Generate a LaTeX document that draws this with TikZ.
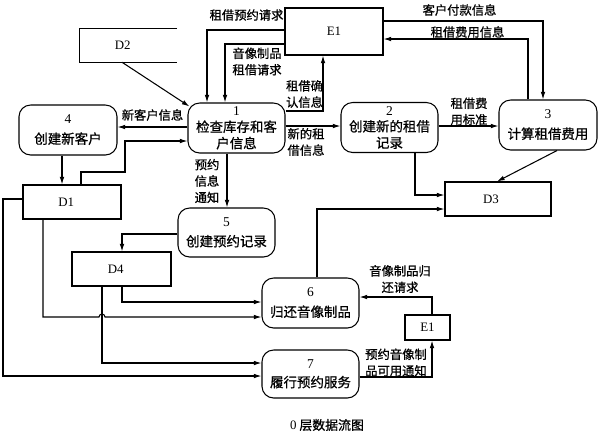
\documentclass[tikz,border=0pt]{standalone}
\usepackage{fontspec}
\setmainfont{Liberation Serif}
\newfontfamily\cjk[FakeBold=0.8]{Noto Sans CJK SC}
\usetikzlibrary{arrows.meta}
\begin{document}
\begin{tikzpicture}[x=0.03cm,y=-0.03cm,
  proc/.style={draw, rounded corners=3.5mm, line width=0.9pt, align=center, inner sep=0pt,
    minimum width=2.91cm, minimum height=1.5cm, font=\cjk\fontsize{11.5}{14}\selectfont},
  store/.style={draw, line width=0.9pt, minimum width=2.94cm, minimum height=1.02cm,
    inner sep=0pt, font=\rmfamily\fontsize{11}{13}\selectfont},
  lbl/.style={align=center, inner sep=0pt, font=\cjk\fontsize{10.5}{14}\selectfont},
  arr/.style={-{Latex[length=2.3mm,width=1.4mm]}, line width=0.9pt},
  ln/.style={line width=0.9pt}]
\useasboundingbox (0,0) rectangle (599,436);

% processes
\node[proc] (p1) at (236.5,128) {{\rmfamily 1}\\检查库存和客\\户信息};
\node[proc] (p2) at (389.5,127.5) {{\rmfamily 2}\\创建新的租借\\记录};
\node[proc, minimum width=2.94cm] (p3) at (548,125) {{\rmfamily 3}\\[3pt]计算租借费用};
\node[proc, minimum width=2.94cm] (p4) at (68,130) {{\rmfamily 4}\\[3pt]创建新客户};
\node[proc, minimum height=1.47cm] (p5) at (226.5,232.5) {{\rmfamily 5}\\[3pt]创建预约记录};
\node[proc] (p6) at (310.5,303) {{\rmfamily 6}\\[3pt]归还音像制品};
\node[proc, minimum height=1.44cm] (p7) at (310.5,374) {{\rmfamily 7}\\[2pt]履行预约服务};

% stores and entities
\node[store] (d1) at (72,202) {\hspace*{-10pt}D1};
\node[store, minimum width=2.97cm] (d4) at (121.5,269) {\hspace*{-10pt}D4};
\node[store, minimum width=3.18cm] (d3) at (498,199) {\hspace*{-12pt}D3};
\node[store, minimum height=1.41cm] (e1) at (334,31.5) {E1};
\node[store, minimum width=1.35cm, minimum height=0.75cm] (e1b) at (427.5,327.5) {E1};
\node[inner sep=0pt, minimum width=2.91cm, minimum height=0.99cm, font=\rmfamily\fontsize{11}{13}\selectfont] (d2) at (128.5,45.5) {\hspace*{-10pt}D2};
\draw[ln] (d2.north east) -- (d2.north west) -- (d2.south west) -- (d2.south east);

% flows
\draw[arr] (e1.west |- 0,30) -| (p1.north -| 207,0);
\draw[arr] (e1.west |- 0,44) -| (p1.north -| 225,0);
\draw[arr] (p1.east |- 0,111) -| (e1.south -| 323,0);
\draw[arr] (p1.west |- 0,127) -- (p4.east |- 0,127);
\draw[arr] (d1.north -| 81,0) |- (125,172) |- (p1.west |- 0,141);
\draw[arr] (p4.south -| 62,0) -- (d1.north -| 62,0);
\draw[arr] ([shift={(-6.5,0)}]d2.south) -- ([shift={(2,4)}]p1.north west);
\draw[arr] (p1.east |- 0,126) -- (p2.west |- 0,126);
\draw[arr] (p2.east |- 0,126) -- (p3.west |- 0,126);
\draw[arr] (e1.east |- 0,21) -| (p3.north -| 543,0);
\draw[arr] (p3.north -| 528,0) |- (e1.east |- 0,39);
\draw[arr] (p2.south -| 415,0) |- (d3.west |- 0,195);
\draw[arr] (p3.south -| 557,0) -- (d3.north -| 497,0);
\draw[arr] (p6.north -| 317,0) |- (d3.west |- 0,209);
\draw[arr] (p1.south -| 227,0) -- (p5.north -| 227,0);
\draw[arr] (p5.west |- 0,234) -| (d4.north -| 122,0);
\draw[arr] (d4.south -| 122,0) |- (p6.west |- 0,302);
\draw[arr] (d1.south -| 43,0) |- (99,317) arc[start angle=180, end angle=360, radius=3] -- (p6.west |- 0,317);
\draw[arr] (d4.south -| 102,0) |- (p7.west |- 0,363);
\draw[arr] (d1.west |- 0,199) -| (3,376) -- (p7.west |- 0,376);
\draw[arr] (e1b.north -| 432,0) |- (p6.east |- 0,297);
\draw[arr] (p7.east |- 0,377) -| (e1b.south -| 432,0);

% labels
\node[lbl] (l1) at (246.5,15) {租借预约请求};
\node[lbl] (l2) at (257,61.5) {音像制品\\租借请求};
\node[lbl] (l3) at (304.5,94) {租借确\\认信息};
\node[lbl] (l4) at (152.5,115) {新客户信息};
\node[lbl] (l5) at (306,142) {新的租\\借信息};
\node[lbl] (l6) at (469,111.5) {租借费\\用标准};
\node[lbl] (l7) at (459.5,10) {客户付款信息};
\node[lbl] (l8) at (467.5,32) {租借费用信息};
\node[lbl] (l9) at (207,181) {预约\\信息\\通知};
\node[lbl] (l10) at (400,279) {音像制品归\\还请求};
\node[lbl] (l11) at (396,362.5) {预约音像制\\品可用通知};
\node[font=\cjk\fontsize{11}{13}\selectfont] (cap) at (327,425) {{\rmfamily 0} 层数据流图};
\end{tikzpicture}
\end{document}
